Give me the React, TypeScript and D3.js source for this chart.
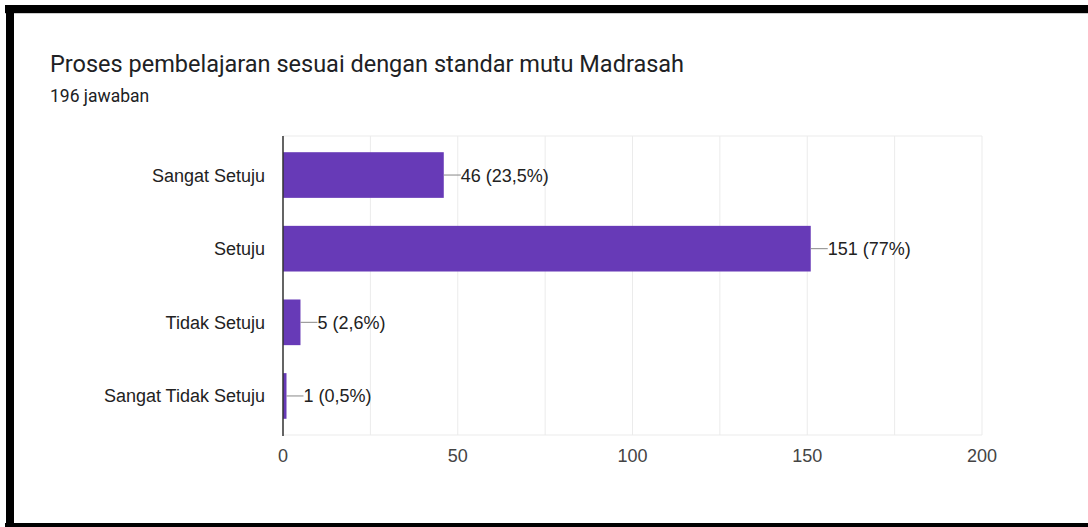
import React from "react";
import * as d3 from "d3";

const title = "Proses pembelajaran sesuai dengan standar mutu Madrasah";
const subtitle = "196 jawaban";
const categories = ["Sangat Setuju", "Setuju", "Tidak Setuju", "Sangat Tidak Setuju"];
const counts = [46, 151, 5, 1];
const percents = ["23,5%", "77%", "2,6%", "0,5%"];
const tickValues = [0, 50, 100, 150, 200];
const gridValues = [0, 25, 50, 75, 100, 125, 150, 175, 200];

const W = 1088;
const H = 527;
const plot = { left: 283, right: 982, top: 136, bottom: 435 };
const BAR_COLOR = "#673ab7";
const ARIAL = "Arial, 'Liberation Sans', sans-serif";
const ROBOTO = "Roboto, 'Noto Sans', sans-serif";

export default function App() {
  const x = d3.scaleLinear().domain([0, 200]).range([plot.left, plot.right]);
  const y = d3
    .scaleBand<string>()
    .domain(categories)
    .range([plot.top, plot.bottom])
    .paddingInner(0.38)
    .paddingOuter(0.22);

  return (
    <div style={{ position: "absolute", left: 0, top: 0 }}>
      <svg width={W} height={H} style={{ display: "block", background: "#fff" }}>
        <rect x={0} y={0} width={W} height={H} fill="#fff" />
        {/* frame */}
        <rect x={5} y={5} width={W - 5} height={8} fill="#000" />
        <rect x={5} y={13} width={W - 5} height={1} fill="#ccc" />
        <rect x={6} y={5} width={8} height={H - 5} fill="#000" />
        <rect x={5} y={523} width={W - 5} height={4} fill="#000" />

        <text x={50} y={72} fontFamily={ROBOTO} fontSize={23.5} fill="#202124">
          {title}
        </text>
        <text x={50} y={102} fontFamily={ROBOTO} fontSize={17.5} fill="#202124">
          {subtitle}
        </text>

        {/* grid */}
        {gridValues.map((v) => (
          <line
            key={"g" + v}
            x1={x(v)}
            x2={x(v)}
            y1={plot.top}
            y2={plot.bottom}
            stroke="#ebebeb"
            strokeWidth={1}
          />
        ))}
        <line x1={plot.left} x2={plot.right} y1={plot.top} y2={plot.top} stroke="#ebebeb" />
        <line x1={plot.left} x2={plot.right} y1={plot.bottom} y2={plot.bottom} stroke="#ebebeb" />

        {/* bars */}
        {categories.map((c, i) => {
          const yb = y(c) as number;
          const bw = y.bandwidth();
          const xe = x(counts[i]);
          const cy = yb + bw / 2;
          return (
            <g key={c}>
              <rect x={x(0)} y={yb} width={xe - x(0)} height={bw} fill={BAR_COLOR} />
              <line x1={xe} x2={xe + 17} y1={cy} y2={cy} stroke="#888" strokeWidth={1} />
              <text
                x={xe + 17}
                y={cy}
                dy="0.36em"
                fontFamily={ARIAL}
                fontSize={18}
                fill="#222"
              >
                {`${counts[i]} (${percents[i]})`}
              </text>
              <text
                x={265}
                y={cy}
                dy="0.36em"
                textAnchor="end"
                fontFamily={ARIAL}
                fontSize={18}
                fill="#222"
              >
                {c}
              </text>
            </g>
          );
        })}

        {/* axis line */}
        <line x1={plot.left} x2={plot.left} y1={plot.top} y2={plot.bottom + 1} stroke="#333" strokeWidth={1.5} />

        {tickValues.map((v) => (
          <text
            key={"t" + v}
            x={x(v)}
            y={462}
            textAnchor="middle"
            fontFamily={ARIAL}
            fontSize={18}
            fill="#444"
          >
            {v}
          </text>
        ))}
      </svg>
    </div>
  );
}
